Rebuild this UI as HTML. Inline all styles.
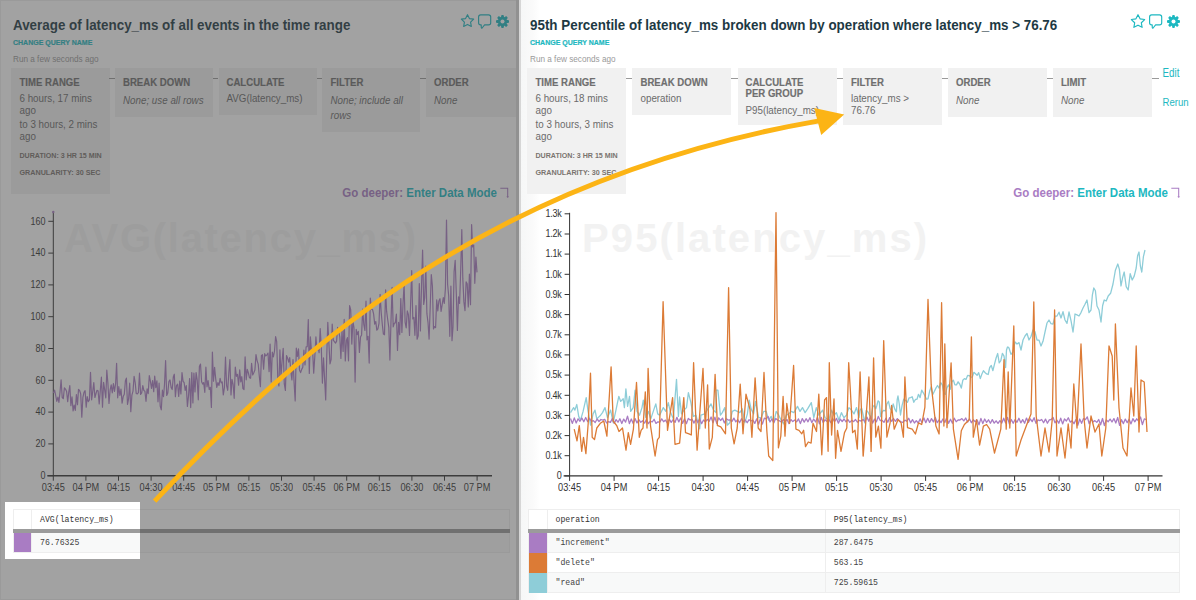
<!DOCTYPE html><html><head><meta charset="utf-8"><style>
html,body{margin:0;padding:0;width:1196px;height:600px;overflow:hidden;background:#fff;}
.abs{position:absolute}
</style></head><body>
<div style="position:absolute;left:0;top:0;width:519px;height:600px;overflow:hidden;background:#fff">
<div style="position:absolute;left:13px;top:18.66px;font:normal bold 13.4px/13.4px 'Liberation Sans', sans-serif;color:#1d3943;white-space:nowrap;transform:scaleY(1.12);transform-origin:0 11.34px;">Average of latency_ms of all events in the time range</div>
<div style="position:absolute;left:13px;top:39.07px;font:normal bold 7px/7px 'Liberation Sans', sans-serif;color:#1db8c1;white-space:nowrap;transform:scaleY(1.15);transform-origin:0 5.93px;-webkit-text-stroke:0.2px #1db8c1">CHANGE QUERY NAME</div>
<div style="position:absolute;left:13px;top:56.06px;font:normal normal 8.2px/8.2px 'Liberation Sans', sans-serif;color:#9a9a9a;white-space:nowrap;">Run a few seconds ago</div>
<svg style="position:absolute;left:459.8px;top:13.3px" width="15" height="15" viewBox="459.8 13.3 15 15"><polygon points="467.30,15.00 469.21,18.87 473.48,19.49 470.39,22.50 471.12,26.76 467.30,24.75 463.48,26.76 464.21,22.50 461.12,19.49 465.39,18.87" fill="none" stroke="#1db8c1" stroke-width="1.15" stroke-linejoin="round"/></svg>
<svg style="position:absolute;left:478px;top:14px" width="14" height="16" viewBox="0 0 14 16"><path d="M2.6,0.9 H10.6 Q12.7,0.9 12.7,3 V8.8 Q12.7,10.9 10.6,10.9 H6.6 L4.1,14 Q3.5,14.6 3.3,13.7 L3.2,10.9 H2.6 Q0.6,10.9 0.6,8.8 V3 Q0.6,0.9 2.6,0.9 Z" fill="none" stroke="#1db8c1" stroke-width="1.15" stroke-linejoin="round"/></svg>
<svg style="position:absolute;left:496px;top:14.8px" width="13" height="13" viewBox="0 0 13 13"><rect x="5.1" y="0" width="2.8" height="13" rx="1" transform="rotate(0 6.5 6.5)" fill="#1db8c1"/><rect x="5.1" y="0" width="2.8" height="13" rx="1" transform="rotate(45 6.5 6.5)" fill="#1db8c1"/><rect x="5.1" y="0" width="2.8" height="13" rx="1" transform="rotate(90 6.5 6.5)" fill="#1db8c1"/><rect x="5.1" y="0" width="2.8" height="13" rx="1" transform="rotate(135 6.5 6.5)" fill="#1db8c1"/><circle cx="6.5" cy="6.5" r="4.7" fill="#1db8c1"/><circle cx="6.5" cy="6.5" r="2" fill="#fff"/></svg>
<div style="position:absolute;left:11px;top:68px;width:98.5px;height:125.5px;background:#f1f1f1"></div>
<div style="position:absolute;left:115px;top:68px;width:98px;height:48.5px;background:#f1f1f1"></div>
<div style="position:absolute;left:218.5px;top:68px;width:98.5px;height:46.5px;background:#f1f1f1"></div>
<div style="position:absolute;left:322px;top:68px;width:98px;height:64px;background:#f1f1f1"></div>
<div style="position:absolute;left:426px;top:68px;width:98px;height:48.5px;background:#f1f1f1"></div>
<div style="position:absolute;left:109px;top:78px;width:6px;height:1px;background:#9a9a9a"></div>
<div style="position:absolute;left:213px;top:78px;width:5px;height:1px;background:#9a9a9a"></div>
<div style="position:absolute;left:317px;top:78px;width:5px;height:1px;background:#9a9a9a"></div>
<div style="position:absolute;left:420px;top:78px;width:6px;height:1px;background:#9a9a9a"></div>
<div style="position:absolute;left:19.5px;top:78.07px;font:normal bold 9.6px/9.6px 'Liberation Sans', sans-serif;color:#6f6f6f;white-space:nowrap;transform:scaleY(1.15);transform-origin:0 8.13px;-webkit-text-stroke:0.15px #6f6f6f">TIME RANGE</div><div style="position:absolute;left:19.5px;top:94.20px;font:normal normal 9.8px/9.8px 'Liberation Sans', sans-serif;color:#6b6b6b;white-space:nowrap;transform:scaleY(1.13);transform-origin:0 8.30px;">6 hours, 17 mins</div><div style="position:absolute;left:19.5px;top:105.70px;font:normal normal 9.8px/9.8px 'Liberation Sans', sans-serif;color:#6b6b6b;white-space:nowrap;transform:scaleY(1.13);transform-origin:0 8.30px;">ago</div><div style="position:absolute;left:19.5px;top:120.20px;font:normal normal 9.8px/9.8px 'Liberation Sans', sans-serif;color:#6b6b6b;white-space:nowrap;transform:scaleY(1.13);transform-origin:0 8.30px;">to 3 hours, 2 mins</div><div style="position:absolute;left:19.5px;top:131.70px;font:normal normal 9.8px/9.8px 'Liberation Sans', sans-serif;color:#6b6b6b;white-space:nowrap;transform:scaleY(1.13);transform-origin:0 8.30px;">ago</div><div style="position:absolute;left:19.5px;top:153.09px;font:normal bold 7.1px/7.1px 'Liberation Sans', sans-serif;color:#7a746f;white-space:nowrap;transform:scaleY(1.07);transform-origin:0 6.01px;">DURATION: 3 HR 15 MIN</div><div style="position:absolute;left:19.5px;top:169.21px;font:normal bold 7.2px/7.2px 'Liberation Sans', sans-serif;color:#7a746f;white-space:nowrap;transform:scaleY(1.07);transform-origin:0 6.09px;">GRANULARITY: 30 SEC</div>
<div style="position:absolute;left:123px;top:78.07px;font:normal bold 9.6px/9.6px 'Liberation Sans', sans-serif;color:#6f6f6f;white-space:nowrap;transform:scaleY(1.15);transform-origin:0 8.13px;-webkit-text-stroke:0.15px #6f6f6f">BREAK DOWN</div>
<div style="position:absolute;left:123px;top:95.70px;font:italic normal 9.8px/9.8px 'Liberation Sans', sans-serif;color:#6b6b6b;white-space:nowrap;transform:scaleY(1.13);transform-origin:0 8.30px;">None; use all rows</div>
<div style="position:absolute;left:226.5px;top:78.07px;font:normal bold 9.6px/9.6px 'Liberation Sans', sans-serif;color:#6f6f6f;white-space:nowrap;transform:scaleY(1.15);transform-origin:0 8.13px;-webkit-text-stroke:0.15px #6f6f6f">CALCULATE</div>
<div style="position:absolute;left:226.5px;top:94.20px;font:normal normal 9.8px/9.8px 'Liberation Sans', sans-serif;color:#6b6b6b;white-space:nowrap;transform:scaleY(1.13);transform-origin:0 8.30px;">AVG(latency_ms)</div>
<div style="position:absolute;left:330.5px;top:78.07px;font:normal bold 9.6px/9.6px 'Liberation Sans', sans-serif;color:#6f6f6f;white-space:nowrap;transform:scaleY(1.15);transform-origin:0 8.13px;-webkit-text-stroke:0.15px #6f6f6f">FILTER</div>
<div style="position:absolute;left:330.5px;top:95.70px;font:italic normal 9.8px/9.8px 'Liberation Sans', sans-serif;color:#6b6b6b;white-space:nowrap;transform:scaleY(1.13);transform-origin:0 8.30px;">None; include all</div>
<div style="position:absolute;left:330.5px;top:111.00px;font:italic normal 9.8px/9.8px 'Liberation Sans', sans-serif;color:#6b6b6b;white-space:nowrap;transform:scaleY(1.13);transform-origin:0 8.30px;">rows</div>
<div style="position:absolute;left:434px;top:78.07px;font:normal bold 9.6px/9.6px 'Liberation Sans', sans-serif;color:#6f6f6f;white-space:nowrap;transform:scaleY(1.15);transform-origin:0 8.13px;-webkit-text-stroke:0.15px #6f6f6f">ORDER</div>
<div style="position:absolute;left:434px;top:95.70px;font:italic normal 9.8px/9.8px 'Liberation Sans', sans-serif;color:#6b6b6b;white-space:nowrap;transform:scaleY(1.13);transform-origin:0 8.30px;">None</div>
<div style="position:absolute;right:22px;top:187.7px;font:bold 11.5px/11.5px 'Liberation Sans', sans-serif;white-space:nowrap;transform:scaleY(1.11);transform-origin:0 9.77px"><span style="color:#a97cc3">Go deeper: </span><span style="color:#1db8c1">Enter Data Mode</span></div>
<svg class="abs" style="left:500px;top:187px" width="12" height="12" viewBox="0 0 12 12"><path d="M0.3,1.3 H7.7 V10.2" fill="none" stroke="#a97cc3" stroke-width="1.05"/><path d="M6.3,9.6 Q7.7,11.8 9.1,9.6 Z" fill="#a97cc3"/></svg>
<div style="position:absolute;left:64px;top:218.14px;font:normal bold 40px/40px 'Liberation Sans', sans-serif;color:#f4f4f4;white-space:nowrap;letter-spacing:1.7px">AVG(latency_ms)</div>
<svg class="abs" style="left:0;top:0" width="519" height="600" viewBox="0 0 519 600"><line x1="53.3" y1="212" x2="53.3" y2="475.7" stroke="#333" stroke-width="1"/><line x1="47.3" y1="475.7" x2="492" y2="475.7" stroke="#333" stroke-width="1.4"/><circle cx="53.3" cy="212" r="1.2" fill="#a97cc3"/><line x1="48.3" y1="475.7" x2="53.3" y2="475.7" stroke="#333"/><line x1="48.3" y1="443.9" x2="53.3" y2="443.9" stroke="#333"/><line x1="48.3" y1="412.1" x2="53.3" y2="412.1" stroke="#333"/><line x1="48.3" y1="380.3" x2="53.3" y2="380.3" stroke="#333"/><line x1="48.3" y1="348.5" x2="53.3" y2="348.5" stroke="#333"/><line x1="48.3" y1="316.7" x2="53.3" y2="316.7" stroke="#333"/><line x1="48.3" y1="284.9" x2="53.3" y2="284.9" stroke="#333"/><line x1="48.3" y1="253.1" x2="53.3" y2="253.1" stroke="#333"/><line x1="48.3" y1="221.3" x2="53.3" y2="221.3" stroke="#333"/><line x1="53.3" y1="475.7" x2="53.3" y2="480.7" stroke="#333"/><line x1="85.9" y1="475.7" x2="85.9" y2="480.7" stroke="#333"/><line x1="118.5" y1="475.7" x2="118.5" y2="480.7" stroke="#333"/><line x1="151.1" y1="475.7" x2="151.1" y2="480.7" stroke="#333"/><line x1="183.7" y1="475.7" x2="183.7" y2="480.7" stroke="#333"/><line x1="216.3" y1="475.7" x2="216.3" y2="480.7" stroke="#333"/><line x1="248.9" y1="475.7" x2="248.9" y2="480.7" stroke="#333"/><line x1="281.5" y1="475.7" x2="281.5" y2="480.7" stroke="#333"/><line x1="314.1" y1="475.7" x2="314.1" y2="480.7" stroke="#333"/><line x1="346.7" y1="475.7" x2="346.7" y2="480.7" stroke="#333"/><line x1="379.3" y1="475.7" x2="379.3" y2="480.7" stroke="#333"/><line x1="411.9" y1="475.7" x2="411.9" y2="480.7" stroke="#333"/><line x1="444.5" y1="475.7" x2="444.5" y2="480.7" stroke="#333"/><line x1="477.1" y1="475.7" x2="477.1" y2="480.7" stroke="#333"/></svg>
<div style="position:absolute;right:473.7px;top:471.9px;font:9px/9px 'Liberation Sans', sans-serif;color:#333;white-space:nowrap;letter-spacing:-0.1px;transform:scaleY(1.17);transform-origin:0 7.6px">0</div>
<div style="position:absolute;right:473.7px;top:440.1px;font:9px/9px 'Liberation Sans', sans-serif;color:#333;white-space:nowrap;letter-spacing:-0.1px;transform:scaleY(1.17);transform-origin:0 7.6px">20</div>
<div style="position:absolute;right:473.7px;top:408.3px;font:9px/9px 'Liberation Sans', sans-serif;color:#333;white-space:nowrap;letter-spacing:-0.1px;transform:scaleY(1.17);transform-origin:0 7.6px">40</div>
<div style="position:absolute;right:473.7px;top:376.5px;font:9px/9px 'Liberation Sans', sans-serif;color:#333;white-space:nowrap;letter-spacing:-0.1px;transform:scaleY(1.17);transform-origin:0 7.6px">60</div>
<div style="position:absolute;right:473.7px;top:344.7px;font:9px/9px 'Liberation Sans', sans-serif;color:#333;white-space:nowrap;letter-spacing:-0.1px;transform:scaleY(1.17);transform-origin:0 7.6px">80</div>
<div style="position:absolute;right:473.7px;top:312.9px;font:9px/9px 'Liberation Sans', sans-serif;color:#333;white-space:nowrap;letter-spacing:-0.1px;transform:scaleY(1.17);transform-origin:0 7.6px">100</div>
<div style="position:absolute;right:473.7px;top:281.1px;font:9px/9px 'Liberation Sans', sans-serif;color:#333;white-space:nowrap;letter-spacing:-0.1px;transform:scaleY(1.17);transform-origin:0 7.6px">120</div>
<div style="position:absolute;right:473.7px;top:249.3px;font:9px/9px 'Liberation Sans', sans-serif;color:#333;white-space:nowrap;letter-spacing:-0.1px;transform:scaleY(1.17);transform-origin:0 7.6px">140</div>
<div style="position:absolute;right:473.7px;top:217.5px;font:9px/9px 'Liberation Sans', sans-serif;color:#333;white-space:nowrap;letter-spacing:-0.1px;transform:scaleY(1.17);transform-origin:0 7.6px">160</div>
<div style="position:absolute;left:33.3px;width:40px;text-align:center;top:483.5px;font:9.2px/9.2px 'Liberation Sans', sans-serif;color:#333;white-space:nowrap;transform:scaleY(1.24);transform-origin:0 7.8px">03:45</div>
<div style="position:absolute;left:65.9px;width:40px;text-align:center;top:483.5px;font:9.2px/9.2px 'Liberation Sans', sans-serif;color:#333;white-space:nowrap;transform:scaleY(1.24);transform-origin:0 7.8px">04 PM</div>
<div style="position:absolute;left:98.5px;width:40px;text-align:center;top:483.5px;font:9.2px/9.2px 'Liberation Sans', sans-serif;color:#333;white-space:nowrap;transform:scaleY(1.24);transform-origin:0 7.8px">04:15</div>
<div style="position:absolute;left:131.1px;width:40px;text-align:center;top:483.5px;font:9.2px/9.2px 'Liberation Sans', sans-serif;color:#333;white-space:nowrap;transform:scaleY(1.24);transform-origin:0 7.8px">04:30</div>
<div style="position:absolute;left:163.7px;width:40px;text-align:center;top:483.5px;font:9.2px/9.2px 'Liberation Sans', sans-serif;color:#333;white-space:nowrap;transform:scaleY(1.24);transform-origin:0 7.8px">04:45</div>
<div style="position:absolute;left:196.3px;width:40px;text-align:center;top:483.5px;font:9.2px/9.2px 'Liberation Sans', sans-serif;color:#333;white-space:nowrap;transform:scaleY(1.24);transform-origin:0 7.8px">05 PM</div>
<div style="position:absolute;left:228.9px;width:40px;text-align:center;top:483.5px;font:9.2px/9.2px 'Liberation Sans', sans-serif;color:#333;white-space:nowrap;transform:scaleY(1.24);transform-origin:0 7.8px">05:15</div>
<div style="position:absolute;left:261.5px;width:40px;text-align:center;top:483.5px;font:9.2px/9.2px 'Liberation Sans', sans-serif;color:#333;white-space:nowrap;transform:scaleY(1.24);transform-origin:0 7.8px">05:30</div>
<div style="position:absolute;left:294.1px;width:40px;text-align:center;top:483.5px;font:9.2px/9.2px 'Liberation Sans', sans-serif;color:#333;white-space:nowrap;transform:scaleY(1.24);transform-origin:0 7.8px">05:45</div>
<div style="position:absolute;left:326.7px;width:40px;text-align:center;top:483.5px;font:9.2px/9.2px 'Liberation Sans', sans-serif;color:#333;white-space:nowrap;transform:scaleY(1.24);transform-origin:0 7.8px">06 PM</div>
<div style="position:absolute;left:359.3px;width:40px;text-align:center;top:483.5px;font:9.2px/9.2px 'Liberation Sans', sans-serif;color:#333;white-space:nowrap;transform:scaleY(1.24);transform-origin:0 7.8px">06:15</div>
<div style="position:absolute;left:391.9px;width:40px;text-align:center;top:483.5px;font:9.2px/9.2px 'Liberation Sans', sans-serif;color:#333;white-space:nowrap;transform:scaleY(1.24);transform-origin:0 7.8px">06:30</div>
<div style="position:absolute;left:424.5px;width:40px;text-align:center;top:483.5px;font:9.2px/9.2px 'Liberation Sans', sans-serif;color:#333;white-space:nowrap;transform:scaleY(1.24);transform-origin:0 7.8px">06:45</div>
<div style="position:absolute;left:457.1px;width:40px;text-align:center;top:483.5px;font:9.2px/9.2px 'Liberation Sans', sans-serif;color:#333;white-space:nowrap;transform:scaleY(1.24);transform-origin:0 7.8px">07 PM</div>
<svg class="abs" style="left:0;top:0" width="519" height="600"><polyline points="53.5,393.0 54.6,390.1 55.7,395.5 56.8,401.4 57.9,397.2 58.9,402.4 60.0,392.2 61.1,379.8 62.2,397.5 63.3,398.7 64.4,387.8 65.5,389.1 66.6,391.5 67.7,401.6 68.7,392.7 69.8,385.6 70.9,405.6 72.0,396.8 73.1,411.0 74.2,405.0 75.3,410.4 76.4,394.5 77.5,404.7 78.5,389.4 79.6,390.5 80.7,393.9 81.8,417.1 82.9,397.3 84.0,392.4 85.1,390.7 86.2,407.2 87.2,396.6 88.3,401.6 89.4,399.9 90.5,372.3 91.6,399.8 92.7,391.9 93.8,382.5 94.9,397.5 96.0,393.5 97.0,390.3 98.1,390.7 99.2,403.9 100.3,390.5 101.4,377.2 102.5,407.2 103.6,382.3 104.7,389.9 105.8,397.8 106.8,370.2 107.9,383.1 109.0,403.5 110.1,390.2 111.2,384.8 112.3,392.8 113.4,383.6 114.5,391.5 115.6,383.7 116.6,363.3 117.7,397.8 118.8,386.7 119.9,395.5 121.0,389.2 122.1,403.1 123.2,396.6 124.3,394.2 125.4,380.8 126.4,378.1 127.5,404.5 128.6,398.8 129.7,383.2 130.8,411.7 131.9,395.1 133.0,391.2 134.1,376.4 135.2,382.5 136.2,393.5 137.3,394.0 138.4,392.6 139.5,373.2 140.6,394.4 141.7,392.9 142.8,385.6 143.9,390.6 144.9,391.3 146.0,401.3 147.1,388.9 148.2,393.6 149.3,375.6 150.4,381.1 151.5,388.5 152.6,380.6 153.7,391.7 154.7,376.0 155.8,387.6 156.9,380.9 158.0,401.8 159.1,383.2 160.2,406.0 161.3,409.8 162.4,390.1 163.5,396.7 164.5,384.5 165.6,360.7 166.7,395.5 167.8,393.0 168.9,381.5 170.0,379.9 171.1,387.4 172.2,389.5 173.3,377.0 174.3,374.2 175.4,396.7 176.5,385.5 177.6,384.1 178.7,396.5 179.8,381.1 180.9,393.9 182.0,372.5 183.1,381.4 184.1,382.5 185.2,390.3 186.3,385.7 187.4,406.4 188.5,396.2 189.6,378.5 190.7,407.6 191.8,372.5 192.9,402.9 193.9,373.2 195.0,392.0 196.1,372.6 197.2,380.1 198.3,399.8 199.4,366.5 200.5,364.0 201.6,381.8 202.7,384.1 203.7,382.6 204.8,392.3 205.9,367.2 207.0,386.8 208.1,380.7 209.2,389.5 210.3,387.3 211.4,407.4 212.4,352.1 213.5,381.2 214.6,367.4 215.7,378.8 216.8,387.3 217.9,382.7 219.0,385.4 220.1,378.3 221.2,382.8 222.2,381.8 223.3,394.9 224.4,387.7 225.5,357.2 226.6,385.7 227.7,390.3 228.8,373.0 229.9,359.5 231.0,394.9 232.0,379.3 233.1,384.4 234.2,398.3 235.3,367.0 236.4,376.3 237.5,374.3 238.6,385.2 239.7,369.9 240.8,382.0 241.8,376.7 242.9,388.5 244.0,389.5 245.1,356.9 246.2,379.8 247.3,369.3 248.4,373.0 249.5,377.8 250.6,378.3 251.6,363.4 252.7,375.0 253.8,372.7 254.9,370.0 256.0,354.6 257.1,360.6 258.2,364.1 259.3,376.2 260.4,386.7 261.4,355.4 262.5,354.7 263.6,369.2 264.7,353.7 265.8,355.9 266.9,354.8 268.0,353.1 269.1,371.6 270.1,344.1 271.2,381.9 272.3,352.2 273.4,356.9 274.5,351.2 275.6,336.6 276.7,341.7 277.8,378.6 278.9,386.0 279.9,349.9 281.0,375.8 282.1,361.0 283.2,348.3 284.3,383.9 285.4,390.4 286.5,355.5 287.6,358.2 288.7,362.1 289.7,357.6 290.8,370.6 291.9,380.0 293.0,359.5 294.1,382.9 295.2,400.9 296.3,348.2 297.4,356.4 298.5,348.9 299.5,369.9 300.6,372.6 301.7,369.4 302.8,367.3 303.9,350.1 305.0,365.0 306.1,346.8 307.2,346.7 308.3,319.6 309.3,373.4 310.4,336.8 311.5,351.9 312.6,350.4 313.7,373.1 314.8,356.8 315.9,336.9 317.0,350.0 318.1,346.9 319.1,352.6 320.2,328.5 321.3,347.4 322.4,383.1 323.5,357.8 324.6,378.8 325.7,400.0 326.8,354.1 327.8,322.3 328.9,343.6 330.0,363.9 331.1,359.7 332.2,324.0 333.3,340.2 334.4,341.7 335.5,343.1 336.6,341.1 337.6,327.4 338.7,331.4 339.8,336.8 340.9,358.5 342.0,330.7 343.1,351.4 344.2,319.4 345.3,361.0 346.4,340.4 347.4,337.6 348.5,360.8 349.6,305.6 350.7,309.7 351.8,344.1 352.9,321.2 354.0,327.9 355.1,382.1 356.2,329.3 357.2,334.6 358.3,331.4 359.4,352.5 360.5,337.1 361.6,334.9 362.7,309.0 363.8,324.5 364.9,330.5 366.0,301.0 367.0,339.9 368.1,336.3 369.2,363.1 370.3,298.1 371.4,309.1 372.5,309.5 373.6,313.8 374.7,324.1 375.8,321.6 376.8,330.2 377.9,328.8 379.0,323.4 380.1,294.3 381.2,312.6 382.3,324.2 383.4,334.1 384.5,334.8 385.6,289.8 386.6,311.2 387.7,319.5 388.8,327.3 389.9,360.1 391.0,320.9 392.1,287.4 393.2,326.9 394.3,323.3 395.3,322.9 396.4,314.0 397.5,350.4 398.6,322.3 399.7,334.7 400.8,298.5 401.9,332.5 403.0,304.1 404.1,284.0 405.1,322.1 406.2,327.9 407.3,310.9 408.4,314.7 409.5,335.4 410.6,304.2 411.7,270.6 412.8,318.9 413.9,317.4 414.9,335.3 416.0,305.5 417.1,339.2 418.2,335.9 419.3,283.5 420.4,331.0 421.5,287.1 422.6,250.0 423.7,304.5 424.7,297.6 425.8,266.1 426.9,313.7 428.0,322.3 429.1,339.1 430.2,307.4 431.3,274.6 432.4,286.0 433.5,328.9 434.5,326.6 435.6,327.6 436.7,299.8 437.8,310.9 438.9,300.9 440.0,298.7 441.1,311.5 442.2,304.4 443.3,297.6 444.3,303.4 445.4,288.6 446.5,220.0 447.6,284.3 448.7,296.0 449.8,336.3 450.9,286.0 452.0,340.7 453.0,326.9 454.1,271.6 455.2,260.4 456.3,293.6 457.4,330.4 458.5,296.9 459.6,303.4 460.7,270.3 461.8,229.5 462.8,278.4 463.9,301.9 465.0,310.6 466.1,281.9 467.2,283.8 468.3,306.9 469.4,274.2 470.5,304.7 471.6,224.5 472.6,246.9 473.7,245.1 474.8,283.3 475.9,257.1 477.0,272.4" fill="none" stroke="#a97cc3" stroke-width="1.2" stroke-linejoin="round"/></svg>
<div style="position:absolute;left:12.5px;top:509px;width:497px;height:20px;background:#fff;border-top:1px solid #eee;border-bottom:1px solid #eee"></div>
<div style="position:absolute;left:12.5px;top:533px;width:497px;height:19px;background:#f8f9f9;border-bottom:1px solid #eee"></div>
<div style="position:absolute;left:12.5px;top:533px;width:18.5px;height:19px;background:#a97cc3"></div>
<div style="position:absolute;left:12.5px;top:509px;width:1px;height:44px;background:#eee"></div>
<div style="position:absolute;left:31px;top:509px;width:1px;height:44px;background:#eee"></div>
<div style="position:absolute;left:509px;top:509px;width:1px;height:44px;background:#eee"></div>
<div style="position:absolute;left:12.5px;top:529px;width:497px;height:4px;background:#9b9b9b"></div>
<div style="position:absolute;left:40px;top:516.06px;font:normal normal 8.2px/8.2px 'Liberation Mono', monospace;color:#333;white-space:nowrap;">AVG(latency_ms)</div>
<div style="position:absolute;left:40px;top:538.56px;font:normal normal 8.2px/8.2px 'Liberation Mono', monospace;color:#444;white-space:nowrap;">76.76325</div>
<div style="position:absolute;left:0;top:0;width:1px;height:600px;background:#eee"></div>
<div style="position:absolute;left:0;top:0;width:519px;height:1px;background:#eee"></div>
<div style="position:absolute;left:0;top:599px;width:519px;height:1px;background:#eee"></div>
<div style="position:absolute;left:516px;top:0;width:3px;height:600px;background:#dcdcdc"></div>
<div style="position:absolute;left:5px;top:502px;width:135px;height:57px;box-shadow:0 0 0 1200px rgba(70,70,70,0.5)"></div>
</div>
<div style="position:absolute;left:519px;top:0;width:2px;height:600px;background:#d6d6d6"></div>
<div style="position:absolute;left:521px;top:0;width:675px;height:600px;overflow:hidden;background:#fff">
<div style="position:absolute;left:0;top:0;width:19px;height:600px;background:linear-gradient(to right,#f6f7f7,#fafafa 60%,#fff)"></div>
<div style="position:absolute;left:9px;top:18.66px;font:normal bold 13.4px/13.4px 'Liberation Sans', sans-serif;color:#1d3943;white-space:nowrap;transform:scaleY(1.12);transform-origin:0 11.34px;">95th Percentile of latency_ms broken down by operation where latency_ms &gt; 76.76</div>
<div style="position:absolute;left:9px;top:39.07px;font:normal bold 7px/7px 'Liberation Sans', sans-serif;color:#1db8c1;white-space:nowrap;transform:scaleY(1.15);transform-origin:0 5.93px;-webkit-text-stroke:0.2px #1db8c1">CHANGE QUERY NAME</div>
<div style="position:absolute;left:9px;top:56.06px;font:normal normal 8.2px/8.2px 'Liberation Sans', sans-serif;color:#9a9a9a;white-space:nowrap;">Run a few seconds ago</div>
<svg style="position:absolute;left:608.7px;top:13.2px" width="16" height="16" viewBox="608.7 13.2 16 16"><polygon points="616.70,14.90 618.76,19.07 623.36,19.74 620.03,22.98 620.81,27.56 616.70,25.40 612.59,27.56 613.37,22.98 610.04,19.74 614.64,19.07" fill="none" stroke="#1db8c1" stroke-width="1.15" stroke-linejoin="round"/></svg>
<svg style="position:absolute;left:627.8px;top:13.6px" width="14" height="16" viewBox="0 0 14 16"><path d="M2.6,0.9 H10.6 Q12.7,0.9 12.7,3 V8.8 Q12.7,10.9 10.6,10.9 H6.6 L4.1,14 Q3.5,14.6 3.3,13.7 L3.2,10.9 H2.6 Q0.6,10.9 0.6,8.8 V3 Q0.6,0.9 2.6,0.9 Z" fill="none" stroke="#1db8c1" stroke-width="1.15" stroke-linejoin="round"/></svg>
<svg style="position:absolute;left:646px;top:14.8px" width="13" height="13" viewBox="0 0 13 13"><rect x="5.1" y="0" width="2.8" height="13" rx="1" transform="rotate(0 6.5 6.5)" fill="#1db8c1"/><rect x="5.1" y="0" width="2.8" height="13" rx="1" transform="rotate(45 6.5 6.5)" fill="#1db8c1"/><rect x="5.1" y="0" width="2.8" height="13" rx="1" transform="rotate(90 6.5 6.5)" fill="#1db8c1"/><rect x="5.1" y="0" width="2.8" height="13" rx="1" transform="rotate(135 6.5 6.5)" fill="#1db8c1"/><circle cx="6.5" cy="6.5" r="4.7" fill="#1db8c1"/><circle cx="6.5" cy="6.5" r="2" fill="#fff"/></svg>
<div style="position:absolute;left:6px;top:68px;width:98.5px;height:125.5px;background:#f1f1f1"></div>
<div style="position:absolute;left:111px;top:68px;width:99px;height:46.8px;background:#f1f1f1"></div>
<div style="position:absolute;left:217px;top:68px;width:99px;height:57px;background:#f1f1f1"></div>
<div style="position:absolute;left:322px;top:68px;width:99px;height:57px;background:#f1f1f1"></div>
<div style="position:absolute;left:427px;top:68px;width:99px;height:48.5px;background:#f1f1f1"></div>
<div style="position:absolute;left:532px;top:68px;width:99px;height:48.5px;background:#f1f1f1"></div>
<div style="position:absolute;left:104.5px;top:78px;width:6.5px;height:1px;background:#9a9a9a"></div>
<div style="position:absolute;left:210px;top:78px;width:7px;height:1px;background:#9a9a9a"></div>
<div style="position:absolute;left:316px;top:78px;width:6px;height:1px;background:#9a9a9a"></div>
<div style="position:absolute;left:421px;top:78px;width:6px;height:1px;background:#9a9a9a"></div>
<div style="position:absolute;left:526px;top:78px;width:6px;height:1px;background:#9a9a9a"></div>
<div style="position:absolute;left:631px;top:78px;width:7px;height:1px;background:#9a9a9a"></div>
<div style="position:absolute;left:14.5px;top:78.07px;font:normal bold 9.6px/9.6px 'Liberation Sans', sans-serif;color:#6f6f6f;white-space:nowrap;transform:scaleY(1.15);transform-origin:0 8.13px;-webkit-text-stroke:0.15px #6f6f6f">TIME RANGE</div><div style="position:absolute;left:14.5px;top:94.20px;font:normal normal 9.8px/9.8px 'Liberation Sans', sans-serif;color:#6b6b6b;white-space:nowrap;transform:scaleY(1.13);transform-origin:0 8.30px;">6 hours, 18 mins</div><div style="position:absolute;left:14.5px;top:105.70px;font:normal normal 9.8px/9.8px 'Liberation Sans', sans-serif;color:#6b6b6b;white-space:nowrap;transform:scaleY(1.13);transform-origin:0 8.30px;">ago</div><div style="position:absolute;left:14.5px;top:120.20px;font:normal normal 9.8px/9.8px 'Liberation Sans', sans-serif;color:#6b6b6b;white-space:nowrap;transform:scaleY(1.13);transform-origin:0 8.30px;">to 3 hours, 3 mins</div><div style="position:absolute;left:14.5px;top:131.70px;font:normal normal 9.8px/9.8px 'Liberation Sans', sans-serif;color:#6b6b6b;white-space:nowrap;transform:scaleY(1.13);transform-origin:0 8.30px;">ago</div><div style="position:absolute;left:14.5px;top:153.09px;font:normal bold 7.1px/7.1px 'Liberation Sans', sans-serif;color:#7a746f;white-space:nowrap;transform:scaleY(1.07);transform-origin:0 6.01px;">DURATION: 3 HR 15 MIN</div><div style="position:absolute;left:14.5px;top:169.21px;font:normal bold 7.2px/7.2px 'Liberation Sans', sans-serif;color:#7a746f;white-space:nowrap;transform:scaleY(1.07);transform-origin:0 6.09px;">GRANULARITY: 30 SEC</div>
<div style="position:absolute;left:119.5px;top:78.07px;font:normal bold 9.6px/9.6px 'Liberation Sans', sans-serif;color:#6f6f6f;white-space:nowrap;transform:scaleY(1.15);transform-origin:0 8.13px;-webkit-text-stroke:0.15px #6f6f6f">BREAK DOWN</div>
<div style="position:absolute;left:119.5px;top:94.20px;font:normal normal 9.8px/9.8px 'Liberation Sans', sans-serif;color:#6b6b6b;white-space:nowrap;transform:scaleY(1.13);transform-origin:0 8.30px;">operation</div>
<div style="position:absolute;left:224.5px;top:78.07px;font:normal bold 9.6px/9.6px 'Liberation Sans', sans-serif;color:#6f6f6f;white-space:nowrap;transform:scaleY(1.15);transform-origin:0 8.13px;-webkit-text-stroke:0.15px #6f6f6f">CALCULATE</div>
<div style="position:absolute;left:224.5px;top:89.37px;font:normal bold 9.6px/9.6px 'Liberation Sans', sans-serif;color:#6f6f6f;white-space:nowrap;transform:scaleY(1.15);transform-origin:0 8.13px;-webkit-text-stroke:0.15px #6f6f6f">PER GROUP</div>
<div style="position:absolute;left:224.5px;top:105.70px;font:normal normal 9.8px/9.8px 'Liberation Sans', sans-serif;color:#6b6b6b;white-space:nowrap;transform:scaleY(1.13);transform-origin:0 8.30px;">P95(latency_ms)</div>
<div style="position:absolute;left:330px;top:78.07px;font:normal bold 9.6px/9.6px 'Liberation Sans', sans-serif;color:#6f6f6f;white-space:nowrap;transform:scaleY(1.15);transform-origin:0 8.13px;-webkit-text-stroke:0.15px #6f6f6f">FILTER</div>
<div style="position:absolute;left:330px;top:94.20px;font:normal normal 9.8px/9.8px 'Liberation Sans', sans-serif;color:#6b6b6b;white-space:nowrap;transform:scaleY(1.13);transform-origin:0 8.30px;">latency_ms &gt;</div>
<div style="position:absolute;left:330px;top:105.70px;font:normal normal 9.8px/9.8px 'Liberation Sans', sans-serif;color:#6b6b6b;white-space:nowrap;transform:scaleY(1.13);transform-origin:0 8.30px;">76.76</div>
<div style="position:absolute;left:435px;top:78.07px;font:normal bold 9.6px/9.6px 'Liberation Sans', sans-serif;color:#6f6f6f;white-space:nowrap;transform:scaleY(1.15);transform-origin:0 8.13px;-webkit-text-stroke:0.15px #6f6f6f">ORDER</div>
<div style="position:absolute;left:435px;top:95.70px;font:italic normal 9.8px/9.8px 'Liberation Sans', sans-serif;color:#6b6b6b;white-space:nowrap;transform:scaleY(1.13);transform-origin:0 8.30px;">None</div>
<div style="position:absolute;left:540px;top:78.07px;font:normal bold 9.6px/9.6px 'Liberation Sans', sans-serif;color:#6f6f6f;white-space:nowrap;transform:scaleY(1.15);transform-origin:0 8.13px;-webkit-text-stroke:0.15px #6f6f6f">LIMIT</div>
<div style="position:absolute;left:540px;top:95.70px;font:italic normal 9.8px/9.8px 'Liberation Sans', sans-serif;color:#6b6b6b;white-space:nowrap;transform:scaleY(1.13);transform-origin:0 8.30px;">None</div>
<div style="position:absolute;left:641.5px;top:69.10px;font:normal normal 9.8px/9.8px 'Liberation Sans', sans-serif;color:#1db8c1;white-space:nowrap;transform:scaleY(1.22);transform-origin:0 8.30px;">Edit</div>
<div style="position:absolute;left:641.5px;top:97.87px;font:normal normal 9.6px/9.6px 'Liberation Sans', sans-serif;color:#1db8c1;white-space:nowrap;transform:scaleY(1.2);transform-origin:0 8.13px;">Rerun</div>
<div style="position:absolute;right:28px;top:187.7px;font:bold 11.5px/11.5px 'Liberation Sans', sans-serif;white-space:nowrap;transform:scaleY(1.11);transform-origin:0 9.77px"><span style="color:#a97cc3">Go deeper: </span><span style="color:#1db8c1">Enter Data Mode</span></div>
<svg class="abs" style="left:650px;top:187px" width="12" height="12" viewBox="0 0 12 12"><path d="M0.3,1.3 H7.7 V10.2" fill="none" stroke="#a97cc3" stroke-width="1.05"/><path d="M6.3,9.6 Q7.7,11.8 9.1,9.6 Z" fill="#a97cc3"/></svg>
<div style="position:absolute;left:61px;top:218.14px;font:normal bold 40px/40px 'Liberation Sans', sans-serif;color:#f2f2f2;white-space:nowrap;letter-spacing:2.1px">P95(latency_ms)</div>
<svg class="abs" style="left:0;top:0" width="675" height="600" viewBox="521 0 675 600"><line x1="569.6" y1="212.8" x2="569.6" y2="475.9" stroke="#333" stroke-width="1"/><line x1="563.6" y1="475.9" x2="1162.5" y2="475.9" stroke="#333" stroke-width="1.4"/><line x1="564.6" y1="475.9" x2="569.6" y2="475.9" stroke="#333"/><line x1="564.6" y1="455.7" x2="569.6" y2="455.7" stroke="#333"/><line x1="564.6" y1="435.6" x2="569.6" y2="435.6" stroke="#333"/><line x1="564.6" y1="415.4" x2="569.6" y2="415.4" stroke="#333"/><line x1="564.6" y1="395.3" x2="569.6" y2="395.3" stroke="#333"/><line x1="564.6" y1="375.1" x2="569.6" y2="375.1" stroke="#333"/><line x1="564.6" y1="354.9" x2="569.6" y2="354.9" stroke="#333"/><line x1="564.6" y1="334.8" x2="569.6" y2="334.8" stroke="#333"/><line x1="564.6" y1="314.6" x2="569.6" y2="314.6" stroke="#333"/><line x1="564.6" y1="294.5" x2="569.6" y2="294.5" stroke="#333"/><line x1="564.6" y1="274.3" x2="569.6" y2="274.3" stroke="#333"/><line x1="564.6" y1="254.1" x2="569.6" y2="254.1" stroke="#333"/><line x1="564.6" y1="234.0" x2="569.6" y2="234.0" stroke="#333"/><line x1="564.6" y1="213.8" x2="569.6" y2="213.8" stroke="#333"/><line x1="569.6" y1="475.9" x2="569.6" y2="480.9" stroke="#333"/><line x1="614.1" y1="475.9" x2="614.1" y2="480.9" stroke="#333"/><line x1="658.6" y1="475.9" x2="658.6" y2="480.9" stroke="#333"/><line x1="703.1" y1="475.9" x2="703.1" y2="480.9" stroke="#333"/><line x1="747.6" y1="475.9" x2="747.6" y2="480.9" stroke="#333"/><line x1="792.1" y1="475.9" x2="792.1" y2="480.9" stroke="#333"/><line x1="836.6" y1="475.9" x2="836.6" y2="480.9" stroke="#333"/><line x1="881.1" y1="475.9" x2="881.1" y2="480.9" stroke="#333"/><line x1="925.6" y1="475.9" x2="925.6" y2="480.9" stroke="#333"/><line x1="970.1" y1="475.9" x2="970.1" y2="480.9" stroke="#333"/><line x1="1014.6" y1="475.9" x2="1014.6" y2="480.9" stroke="#333"/><line x1="1059.1" y1="475.9" x2="1059.1" y2="480.9" stroke="#333"/><line x1="1103.6" y1="475.9" x2="1103.6" y2="480.9" stroke="#333"/><line x1="1148.1" y1="475.9" x2="1148.1" y2="480.9" stroke="#333"/><polyline points="570.5,412.6 573.6,407.6 574.9,410.1 576.8,404.5 578.7,416.4 580.5,420.2 583.1,411.4 586.2,397.6 588.1,411.4 590.6,425.2 593.1,413.9 595.0,410.1 596.8,418.9 600.6,415.2 602.5,412.6 605.0,407.6 607.5,417.7 610.6,410.1 613.2,422.7 615.7,411.4 618.8,396.3 620.7,401.4 623.2,398.8 624.4,407.6 625.9,388.8 627.6,406.4 629.5,396.3 630.7,411.4 633.2,407.6 635.1,390.1 637.0,411.4 639.5,415.2 642.0,407.6 643.3,400.1 645.8,417.7 648.3,411.4 650.8,418.9 654.5,407.6 655.8,403.9 657.7,413.9 659.6,415.2 663.3,407.6 665.8,411.4 668.3,402.6 670.2,411.4 673.4,418.9 676.5,379.4 678.4,416.4 679.6,397.0 681.5,413.9 684.0,410.1 686.5,407.6 688.4,392.6 690.9,402.6 693.4,416.4 695.9,415.2 699.7,428.9 700.9,415.2 704.7,413.9 707.2,410.1 711.0,403.9 713.5,410.1 716.0,412.6 716.0,390.1 717.9,390.1 720.4,415.2 722.3,412.6 724.8,407.6 727.3,425.2 729.8,422.7 732.3,411.4 734.8,410.1 737.3,411.4 739.8,412.6 742.3,408.9 744.8,422.7 747.4,413.9 749.2,400.1 751.1,408.9 753.6,413.9 755.5,401.4 758.6,417.7 761.2,417.7 763.7,411.4 766.2,411.4 768.7,420.2 771.2,416.4 773.7,422.7 776.2,411.4 778.7,415.2 781.2,420.2 783.7,423.9 786.2,415.2 788.7,413.9 791.3,411.4 793.8,412.6 797.5,406.4 800.0,411.4 802.5,407.6 805.1,412.6 807.6,408.9 811.3,402.6 813.8,417.7 816.3,407.6 818.8,415.2 822.6,410.1 825.1,417.7 828.9,420.2 831.4,410.1 833.9,415.2 836.4,412.6 838.9,420.2 841.4,412.6 843.9,417.7 846.4,415.2 848.9,407.6 851.5,410.1 854.0,413.9 856.5,407.6 859.0,417.7 860.0,410.3 861.6,408.1 863.2,415.0 864.7,422.8 866.3,410.3 867.9,411.9 869.5,415.0 871.1,417.4 872.7,407.1 874.2,405.3 875.8,408.7 876.9,405.4 878.0,400.8 879.3,402.0 880.6,416.6 882.2,411.9 883.7,410.3 885.3,411.0 886.9,403.9 888.5,401.3 890.1,408.7 891.6,410.6 893.2,403.9 894.8,409.2 896.4,411.8 897.2,399.7 898.0,396.0 899.2,403.5 900.5,415.0 902.1,405.3 903.7,399.2 905.6,400.6 907.5,402.3 909.1,397.8 910.6,397.6 912.2,396.7 913.8,402.3 915.4,399.5 917.0,399.2 918.5,394.3 920.1,397.6 921.7,390.1 923.3,392.8 924.9,395.8 926.5,399.2 928.0,398.8 929.6,391.3 931.2,386.7 932.8,394.4 934.4,391.3 935.9,388.1 937.5,385.5 939.1,388.1 940.7,382.6 942.3,384.9 943.9,393.1 945.4,394.4 947.0,387.6 948.6,384.9 950.2,389.3 951.8,381.8 953.4,380.2 954.9,384.9 956.5,384.9 958.1,381.8 959.7,384.0 961.3,388.1 962.8,380.3 964.4,378.6 966.0,379.4 967.6,375.4 969.2,375.6 970.8,377.0 972.3,377.1 973.9,372.3 975.5,373.7 977.1,375.4 978.7,372.7 980.3,378.6 981.8,374.2 983.4,370.7 985.0,372.5 986.6,373.9 988.2,374.5 989.7,367.5 991.3,365.5 992.9,370.7 994.5,364.2 996.1,358.0 997.7,353.5 999.2,362.8 1000.8,360.6 1002.4,353.3 1004.0,356.1 1005.6,367.5 1006.5,350.0 1007.5,347.0 1008.2,347.2 1009.0,348.0 1011.0,354.4 1013.0,352.0 1015.0,341.9 1017.0,344.0 1019.0,342.6 1021.0,350.0 1023.0,340.0 1025.0,336.0 1027.0,333.5 1029.0,340.0 1031.0,336.5 1033.0,330.0 1035.0,331.8 1037.0,340.0 1039.0,340.1 1041.0,346.0 1043.0,341.3 1045.0,332.0 1047.0,323.0 1049.0,320.0 1051.0,323.7 1053.0,324.0 1055.0,316.1 1057.0,316.0 1059.0,312.2 1061.0,318.0 1063.0,311.7 1065.0,320.0 1067.0,323.4 1069.0,312.0 1071.0,320.7 1073.0,332.0 1074.0,324.0 1075.0,314.0 1077.0,314.9 1079.0,316.0 1081.0,312.6 1083.0,308.0 1085.0,304.2 1087.0,300.0 1089.0,312.6 1091.0,310.0 1092.4,294.8 1093.8,288.0 1095.4,290.8 1097.0,306.0 1099.0,310.0 1101.0,322.0 1102.6,305.7 1104.2,300.0 1106.2,301.0 1108.2,296.0 1110.6,293.3 1113.0,284.0 1115.4,270.2 1117.8,264.0 1119.4,269.4 1121.0,286.0 1122.6,277.6 1124.2,272.0 1126.2,286.6 1128.2,290.0 1130.2,273.7 1132.2,280.0 1134.2,276.1 1136.2,268.0 1137.6,255.7 1139.0,252.0 1140.4,266.2 1141.8,272.0 1143.4,256.7 1145.0,250.0" fill="none" stroke="#8ecdd8" stroke-width="1.3" stroke-linejoin="round"/><polyline points="570.5,418.6 572.4,423.4 574.3,417.9 576.2,423.0 578.1,418.8 580.0,421.3 581.9,418.0 583.8,421.7 585.7,417.5 587.6,421.6 589.5,418.4 591.4,421.4 593.3,420.6 595.2,422.5 597.1,419.0 599.0,421.5 600.9,419.5 602.8,420.2 604.7,419.3 606.6,423.0 608.5,421.6 610.4,422.4 612.3,418.6 614.2,423.4 616.1,419.6 618.0,422.2 619.9,418.8 621.8,423.5 623.7,419.1 625.6,422.1 627.5,416.1 629.4,423.5 631.3,419.0 633.2,423.6 635.1,418.6 637.0,422.9 638.9,419.7 640.8,422.3 642.7,420.8 644.6,423.1 646.5,419.2 648.4,423.7 650.3,421.2 652.2,422.0 654.1,419.3 656.0,423.4 657.9,421.8 659.8,422.1 661.7,418.9 663.6,421.7 665.5,420.1 667.4,423.1 669.3,419.1 671.2,422.4 673.1,419.6 675.0,422.4 676.9,417.3 678.8,421.9 680.7,418.0 682.6,423.4 684.5,418.8 686.4,423.7 688.3,418.4 690.2,420.1 692.1,419.2 694.0,423.1 695.9,418.9 697.8,422.5 699.7,418.4 701.6,423.7 703.5,420.0 705.4,421.8 707.3,419.4 709.2,421.2 711.1,417.0 713.0,422.8 714.9,417.2 716.8,423.6 718.7,417.8 720.6,420.5 722.5,418.1 724.4,422.9 726.3,418.7 728.2,420.1 730.1,420.0 732.0,421.4 733.9,418.1 735.8,421.9 737.7,419.6 739.6,422.7 741.5,418.8 743.4,421.8 745.3,420.0 747.2,422.7 749.1,419.7 751.0,421.0 752.9,420.1 754.8,423.4 756.7,418.8 758.6,424.2 760.5,418.5 762.4,424.1 764.3,418.1 766.2,418.9 768.1,416.4 770.0,422.0 771.9,419.0 773.8,422.8 775.7,418.6 777.6,420.1 779.5,420.8 781.4,422.1 783.3,419.6 785.2,421.3 787.1,419.6 789.0,423.6 790.9,419.5 792.8,421.6 794.7,419.9 796.6,421.9 798.5,418.9 800.4,423.6 802.3,418.6 804.2,422.1 806.1,418.7 808.0,421.8 809.9,417.7 811.8,422.6 813.7,419.0 815.6,422.0 817.5,417.3 819.4,423.9 821.3,417.4 823.2,422.7 825.1,419.7 827.0,421.4 828.9,419.4 830.8,422.6 832.7,418.5 834.6,421.8 836.5,418.4 838.4,423.2 840.3,419.1 842.2,421.5 844.1,419.0 846.0,421.8 847.9,419.5 849.8,422.4 851.7,420.4 853.6,421.6 855.5,419.5 857.4,422.2 859.3,420.4 861.2,421.1 863.1,419.4 865.0,421.9 866.9,417.0 868.8,421.2 870.7,416.6 872.6,423.1 874.5,419.1 876.4,421.8 878.3,416.4 880.2,420.5 882.1,420.4 884.0,422.4 885.9,418.2 887.8,422.2 889.7,417.6 891.6,421.3 893.5,418.5 895.4,421.3 897.3,418.6 899.2,420.4 901.1,421.8 903.0,422.3 904.9,420.1 906.8,421.2 908.7,418.3 910.6,422.8 912.5,419.6 914.4,423.0 916.3,420.7 918.2,423.0 920.1,418.9 922.0,422.7 923.9,417.9 925.8,422.7 927.7,418.3 929.6,422.4 931.5,418.6 933.4,421.9 935.3,417.4 937.2,422.7 939.1,419.9 941.0,422.6 942.9,419.0 944.8,422.5 946.7,417.8 948.6,423.3 950.5,419.3 952.4,423.2 954.3,418.2 956.2,421.7 958.1,419.9 960.0,420.0 961.9,418.6 963.8,420.9 965.7,418.0 967.6,422.1 969.5,418.8 971.4,422.7 973.3,419.8 975.2,421.7 977.1,420.0 979.0,424.8 980.9,418.4 982.8,423.6 984.7,419.0 986.6,422.4 988.5,419.8 990.4,423.3 992.3,419.6 994.2,423.1 996.1,420.8 998.0,423.4 999.9,420.6 1001.8,423.1 1003.7,418.2 1005.6,423.0 1007.5,417.4 1009.4,424.2 1011.3,419.5 1013.2,423.2 1015.1,419.5 1017.0,422.3 1018.9,418.3 1020.8,422.8 1022.7,419.6 1024.6,423.2 1026.5,418.1 1028.4,422.5 1030.3,418.9 1032.2,421.6 1034.1,417.7 1036.0,423.4 1037.9,419.9 1039.8,420.6 1041.7,419.5 1043.6,422.8 1045.5,419.1 1047.4,423.2 1049.3,419.9 1051.2,419.5 1053.1,417.4 1055.0,422.9 1056.9,420.1 1058.8,423.2 1060.7,418.2 1062.6,423.9 1064.5,418.9 1066.4,421.0 1068.3,417.7 1070.2,422.1 1072.1,420.9 1074.0,423.7 1075.9,419.5 1077.8,425.4 1079.7,419.0 1081.6,423.3 1083.5,418.6 1085.4,419.6 1087.3,416.9 1089.2,423.8 1091.1,418.9 1093.0,421.9 1094.9,420.6 1096.8,422.4 1098.7,419.5 1100.6,424.8 1102.5,418.5 1104.4,425.5 1106.3,419.9 1108.2,421.7 1110.1,419.1 1112.0,422.0 1113.9,418.6 1115.8,423.0 1117.7,417.5 1119.6,425.4 1121.5,419.7 1123.4,423.6 1125.3,419.1 1127.2,422.6 1129.1,419.2 1131.0,423.9 1132.9,418.7 1134.8,421.8 1136.7,418.8 1138.6,421.1 1140.5,417.0 1142.4,424.6 1144.3,418.9 1146.2,419.5" fill="none" stroke="#a97cc3" stroke-width="1.3" stroke-linejoin="round"/><polyline points="574.2,429.1 577.0,440.8 579.3,425.6 581.7,451.3 583.5,437.3 585.9,453.6 588.2,423.3 590.5,373.2 592.2,437.3 594.5,439.6 596.8,428.0 600.3,423.3 603.8,421.0 606.9,436.1 611.1,366.9 613.2,421.0 616.7,425.6 619.0,431.5 622.5,428.0 626.0,450.1 628.3,432.6 630.6,444.3 633.4,429.1 636.5,382.5 639.3,437.3 641.1,430.3 643.0,428.0 645.3,391.8 647.0,428.0 648.1,368.5 650.5,425.6 655.1,456.0 657.5,439.6 659.3,437.3 663.1,301.7 667.5,430.3 672.6,397.6 675.0,444.3 679.6,443.1 683.8,397.6 685.5,432.6 689.0,433.8 691.3,435.0 693.6,362.7 697.1,450.1 703.0,368.5 705.3,428.0 707.6,384.8 709.3,449.0 712.3,437.3 715.1,374.3 717.4,425.6 717.8,425.6 720.8,426.8 725.5,433.8 728.6,287.7 731.3,428.0 734.1,443.8 737.2,428.0 740.2,384.1 743.0,433.8 746.0,394.1 750.0,409.3 751.9,437.3 755.1,377.8 758.2,428.0 761.0,431.5 764.0,372.5 766.8,430.3 768.7,456.0 772.8,460.6 776.0,212.6 778.4,447.8 780.8,436.1 783.1,396.5 785.0,436.1 786.8,403.5 789.6,423.3 793.6,365.5 795.9,429.1 799.0,430.3 801.8,433.8 803.6,430.3 805.5,446.6 808.3,442.0 811.1,443.1 813.0,423.3 816.5,431.5 818.8,394.1 821.8,454.8 824.6,400.0 826.5,397.6 828.1,451.3 829.3,362.7 831.6,435.0 834.0,398.8 835.6,458.3 837.5,430.3 841.0,451.3 844.5,432.6 846.8,428.0 848.7,362.7 850.3,389.5 852.6,432.6 855.0,430.3 857.3,449.0 860.1,372.0 863.1,456.0 863.2,456.1 865.7,422.9 868.9,377.0 871.1,451.4 873.6,358.0 875.8,437.2 878.4,426.1 880.9,448.2 883.7,340.6 886.9,437.2 890.1,422.9 891.6,405.5 894.2,429.2 898.0,419.7 901.1,422.9 903.4,437.2 904.9,377.0 907.5,427.7 912.2,429.2 915.4,434.0 918.5,422.9 921.7,424.5 924.9,407.1 928.0,299.5 931.2,384.9 935.9,426.1 939.1,434.0 941.6,302.7 943.9,426.1 944.8,343.8 947.0,427.7 951.1,362.8 953.4,429.2 958.1,459.3 961.3,430.8 964.4,424.5 969.2,419.7 971.4,336.8 973.3,437.2 976.5,419.7 979.6,445.1 983.4,426.1 986.6,424.5 989.7,429.2 994.5,453.0 1000.8,429.2 1004.0,359.6 1006.2,429.2 1008.2,372.0 1009.8,428.0 1013.8,326.0 1016.2,456.0 1021.0,440.0 1027.0,424.0 1031.0,414.0 1033.8,302.0 1036.2,416.0 1041.0,456.0 1045.0,428.0 1049.0,452.0 1052.2,420.0 1054.6,310.0 1057.0,456.0 1061.0,428.0 1065.0,458.0 1068.2,424.0 1071.0,448.0 1073.8,384.0 1077.0,428.0 1081.0,344.0 1084.2,420.0 1087.0,448.0 1091.0,416.0 1095.0,432.0 1099.0,424.0 1101.8,456.0 1105.8,428.0 1109.0,346.0 1112.2,356.0 1113.8,400.0 1115.4,324.0 1119.0,408.0 1123.0,448.0 1127.0,456.0 1131.0,388.0 1133.8,416.0 1136.2,346.0 1139.0,432.0 1141.0,380.0 1144.2,382.0 1147.0,432.0" fill="none" stroke="#dc7b36" stroke-width="1.3" stroke-linejoin="round"/></svg>
<div style="position:absolute;right:634.4px;top:472.1px;font:9px/9px 'Liberation Sans', sans-serif;color:#333;white-space:nowrap;letter-spacing:-0.2px;transform:scaleY(1.17);transform-origin:0 7.6px">0</div>
<div style="position:absolute;right:634.4px;top:451.9px;font:9px/9px 'Liberation Sans', sans-serif;color:#333;white-space:nowrap;letter-spacing:-0.2px;transform:scaleY(1.17);transform-origin:0 7.6px">0.1k</div>
<div style="position:absolute;right:634.4px;top:431.8px;font:9px/9px 'Liberation Sans', sans-serif;color:#333;white-space:nowrap;letter-spacing:-0.2px;transform:scaleY(1.17);transform-origin:0 7.6px">0.2k</div>
<div style="position:absolute;right:634.4px;top:411.6px;font:9px/9px 'Liberation Sans', sans-serif;color:#333;white-space:nowrap;letter-spacing:-0.2px;transform:scaleY(1.17);transform-origin:0 7.6px">0.3k</div>
<div style="position:absolute;right:634.4px;top:391.5px;font:9px/9px 'Liberation Sans', sans-serif;color:#333;white-space:nowrap;letter-spacing:-0.2px;transform:scaleY(1.17);transform-origin:0 7.6px">0.4k</div>
<div style="position:absolute;right:634.4px;top:371.3px;font:9px/9px 'Liberation Sans', sans-serif;color:#333;white-space:nowrap;letter-spacing:-0.2px;transform:scaleY(1.17);transform-origin:0 7.6px">0.5k</div>
<div style="position:absolute;right:634.4px;top:351.1px;font:9px/9px 'Liberation Sans', sans-serif;color:#333;white-space:nowrap;letter-spacing:-0.2px;transform:scaleY(1.17);transform-origin:0 7.6px">0.6k</div>
<div style="position:absolute;right:634.4px;top:331.0px;font:9px/9px 'Liberation Sans', sans-serif;color:#333;white-space:nowrap;letter-spacing:-0.2px;transform:scaleY(1.17);transform-origin:0 7.6px">0.7k</div>
<div style="position:absolute;right:634.4px;top:310.8px;font:9px/9px 'Liberation Sans', sans-serif;color:#333;white-space:nowrap;letter-spacing:-0.2px;transform:scaleY(1.17);transform-origin:0 7.6px">0.8k</div>
<div style="position:absolute;right:634.4px;top:290.7px;font:9px/9px 'Liberation Sans', sans-serif;color:#333;white-space:nowrap;letter-spacing:-0.2px;transform:scaleY(1.17);transform-origin:0 7.6px">0.9k</div>
<div style="position:absolute;right:634.4px;top:270.5px;font:9px/9px 'Liberation Sans', sans-serif;color:#333;white-space:nowrap;letter-spacing:-0.2px;transform:scaleY(1.17);transform-origin:0 7.6px">1.0k</div>
<div style="position:absolute;right:634.4px;top:250.3px;font:9px/9px 'Liberation Sans', sans-serif;color:#333;white-space:nowrap;letter-spacing:-0.2px;transform:scaleY(1.17);transform-origin:0 7.6px">1.1k</div>
<div style="position:absolute;right:634.4px;top:230.2px;font:9px/9px 'Liberation Sans', sans-serif;color:#333;white-space:nowrap;letter-spacing:-0.2px;transform:scaleY(1.17);transform-origin:0 7.6px">1.2k</div>
<div style="position:absolute;right:634.4px;top:210.0px;font:9px/9px 'Liberation Sans', sans-serif;color:#333;white-space:nowrap;letter-spacing:-0.2px;transform:scaleY(1.17);transform-origin:0 7.6px">1.3k</div>
<div style="position:absolute;left:28.6px;width:40px;text-align:center;top:483.5px;font:9.2px/9.2px 'Liberation Sans', sans-serif;color:#333;white-space:nowrap;transform:scaleY(1.24);transform-origin:0 7.8px">03:45</div>
<div style="position:absolute;left:73.1px;width:40px;text-align:center;top:483.5px;font:9.2px/9.2px 'Liberation Sans', sans-serif;color:#333;white-space:nowrap;transform:scaleY(1.24);transform-origin:0 7.8px">04 PM</div>
<div style="position:absolute;left:117.6px;width:40px;text-align:center;top:483.5px;font:9.2px/9.2px 'Liberation Sans', sans-serif;color:#333;white-space:nowrap;transform:scaleY(1.24);transform-origin:0 7.8px">04:15</div>
<div style="position:absolute;left:162.1px;width:40px;text-align:center;top:483.5px;font:9.2px/9.2px 'Liberation Sans', sans-serif;color:#333;white-space:nowrap;transform:scaleY(1.24);transform-origin:0 7.8px">04:30</div>
<div style="position:absolute;left:206.6px;width:40px;text-align:center;top:483.5px;font:9.2px/9.2px 'Liberation Sans', sans-serif;color:#333;white-space:nowrap;transform:scaleY(1.24);transform-origin:0 7.8px">04:45</div>
<div style="position:absolute;left:251.1px;width:40px;text-align:center;top:483.5px;font:9.2px/9.2px 'Liberation Sans', sans-serif;color:#333;white-space:nowrap;transform:scaleY(1.24);transform-origin:0 7.8px">05 PM</div>
<div style="position:absolute;left:295.6px;width:40px;text-align:center;top:483.5px;font:9.2px/9.2px 'Liberation Sans', sans-serif;color:#333;white-space:nowrap;transform:scaleY(1.24);transform-origin:0 7.8px">05:15</div>
<div style="position:absolute;left:340.1px;width:40px;text-align:center;top:483.5px;font:9.2px/9.2px 'Liberation Sans', sans-serif;color:#333;white-space:nowrap;transform:scaleY(1.24);transform-origin:0 7.8px">05:30</div>
<div style="position:absolute;left:384.6px;width:40px;text-align:center;top:483.5px;font:9.2px/9.2px 'Liberation Sans', sans-serif;color:#333;white-space:nowrap;transform:scaleY(1.24);transform-origin:0 7.8px">05:45</div>
<div style="position:absolute;left:429.1px;width:40px;text-align:center;top:483.5px;font:9.2px/9.2px 'Liberation Sans', sans-serif;color:#333;white-space:nowrap;transform:scaleY(1.24);transform-origin:0 7.8px">06 PM</div>
<div style="position:absolute;left:473.6px;width:40px;text-align:center;top:483.5px;font:9.2px/9.2px 'Liberation Sans', sans-serif;color:#333;white-space:nowrap;transform:scaleY(1.24);transform-origin:0 7.8px">06:15</div>
<div style="position:absolute;left:518.1px;width:40px;text-align:center;top:483.5px;font:9.2px/9.2px 'Liberation Sans', sans-serif;color:#333;white-space:nowrap;transform:scaleY(1.24);transform-origin:0 7.8px">06:30</div>
<div style="position:absolute;left:562.6px;width:40px;text-align:center;top:483.5px;font:9.2px/9.2px 'Liberation Sans', sans-serif;color:#333;white-space:nowrap;transform:scaleY(1.24);transform-origin:0 7.8px">06:45</div>
<div style="position:absolute;left:607.1px;width:40px;text-align:center;top:483.5px;font:9.2px/9.2px 'Liberation Sans', sans-serif;color:#333;white-space:nowrap;transform:scaleY(1.24);transform-origin:0 7.8px">07 PM</div>
<div style="position:absolute;left:7px;top:509px;width:651.5px;height:20px;background:#fff;border-top:1px solid #eee"></div>
<div style="position:absolute;left:7px;top:533px;width:651.5px;height:19px;background:#f8f9f9;border-bottom:1px solid #eee"></div>
<div style="position:absolute;left:7.6px;top:533px;width:18.2px;height:20px;background:#a97cc3"></div>
<div style="position:absolute;left:34.5px;top:538.56px;font:normal normal 8.2px/8.2px 'Liberation Mono', monospace;color:#444;white-space:nowrap;">"increment"</div>
<div style="position:absolute;left:312.79999999999995px;top:538.56px;font:normal normal 8.2px/8.2px 'Liberation Mono', monospace;color:#444;white-space:nowrap;">287.6475</div>
<div style="position:absolute;left:7px;top:553px;width:651.5px;height:19px;background:#fff;border-bottom:1px solid #eee"></div>
<div style="position:absolute;left:7.6px;top:553px;width:18.2px;height:20px;background:#dc7b36"></div>
<div style="position:absolute;left:34.5px;top:558.56px;font:normal normal 8.2px/8.2px 'Liberation Mono', monospace;color:#444;white-space:nowrap;">"delete"</div>
<div style="position:absolute;left:312.79999999999995px;top:558.56px;font:normal normal 8.2px/8.2px 'Liberation Mono', monospace;color:#444;white-space:nowrap;">563.15</div>
<div style="position:absolute;left:7px;top:573px;width:651.5px;height:19px;background:#f8f9f9;border-bottom:1px solid #eee"></div>
<div style="position:absolute;left:7.6px;top:573px;width:18.2px;height:20px;background:#8ecdd8"></div>
<div style="position:absolute;left:34.5px;top:578.56px;font:normal normal 8.2px/8.2px 'Liberation Mono', monospace;color:#444;white-space:nowrap;">"read"</div>
<div style="position:absolute;left:312.79999999999995px;top:578.56px;font:normal normal 8.2px/8.2px 'Liberation Mono', monospace;color:#444;white-space:nowrap;">725.59615</div>
<div style="position:absolute;left:7px;top:509px;width:1px;height:84px;background:#eee"></div>
<div style="position:absolute;left:26px;top:509px;width:1px;height:84px;background:#eee"></div>
<div style="position:absolute;left:304.29999999999995px;top:509px;width:1px;height:84px;background:#eee"></div>
<div style="position:absolute;left:658px;top:509px;width:1px;height:84px;background:#eee"></div>
<div style="position:absolute;left:7px;top:529px;width:651.5px;height:4px;background:#9b9b9b"></div>
<div style="position:absolute;left:34.5px;top:516.06px;font:normal normal 8.2px/8.2px 'Liberation Mono', monospace;color:#333;white-space:nowrap;">operation</div>
<div style="position:absolute;left:312.79999999999995px;top:516.06px;font:normal normal 8.2px/8.2px 'Liberation Mono', monospace;color:#333;white-space:nowrap;">P95(latency_ms)</div>
</div>
<svg class="abs" style="left:0;top:0" width="1196" height="600" viewBox="0 0 1196 600"><path d="M154.6,501.2 C335.19,307.48 527.22,171.64 819,120.8" fill="none" stroke="#fcb415" stroke-width="4.9"/><polygon points="844.2,114.6 814.2,107.9 821.2,135" fill="#fcb415"/></svg>
</body></html>
